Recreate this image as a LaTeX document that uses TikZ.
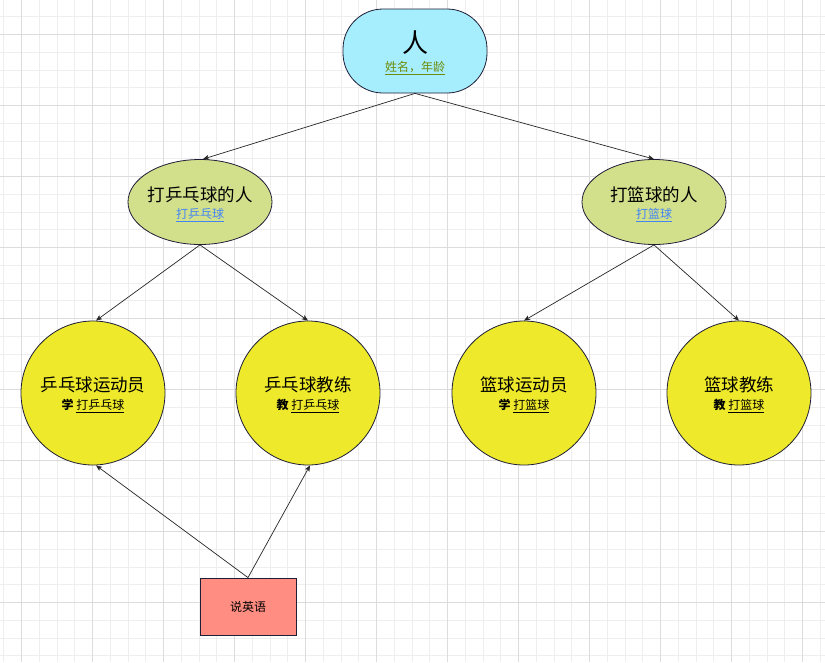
\documentclass[tikz,border=0pt]{standalone}
\usepackage{fontspec}
\setmainfont{Noto Sans CJK SC}
\usetikzlibrary{shapes.geometric,arrows.meta}
\definecolor{gridminor}{RGB}{238,238,238}
\definecolor{gridmajor}{RGB}{220,220,220}
\definecolor{edgeline}{RGB}{30,30,55}
\definecolor{topfill}{RGB}{166,238,254}
\definecolor{midfill}{RGB}{210,224,140}
\definecolor{circfill}{RGB}{238,233,42}
\definecolor{boxfill}{RGB}{255,141,130}
\definecolor{olivetext}{RGB}{110,140,10}
\definecolor{bluetext}{RGB}{66,133,244}
\tikzset{
  shapebase/.style={draw=edgeline, line width=0.8pt, inner sep=0pt},
  topnode/.style={shapebase, rectangle, rounded corners=40pt, fill=topfill, minimum width=144pt, minimum height=84pt},
  midnode/.style={shapebase, ellipse, fill=midfill, minimum width=144pt, minimum height=85pt},
  circnode/.style={shapebase, circle, fill=circfill, minimum size=144pt},
  boxnode/.style={shapebase, rectangle, fill=boxfill, minimum width=96pt, minimum height=57pt, font=\fontsize{12pt}{14pt}\selectfont},
  bigtitle/.style={font=\fontsize{26pt}{30pt}\selectfont, inner sep=0pt},
  title/.style={font=\fontsize{17.5pt}{20pt}\selectfont, inner sep=0pt},
  subtitle/.style={font=\fontsize{12pt}{14pt}\selectfont, inner sep=0pt},
  conn/.style={draw=black!85, line width=0.7pt, -{Stealth[length=6pt,width=5pt,inset=1.5pt]}}
}
\begin{document}
\begin{tikzpicture}[x=1pt,y=-1pt]
\useasboundingbox (0,0) rectangle (825,662);
\fill[white] (0,0) rectangle (825,662);
% grid
\foreach \i in {0,...,47} {
  \pgfmathsetmacro{\gx}{3.55+17.75*\i}
  \draw[gridminor, line width=0.6pt] (\gx,0) -- (\gx,662);
}
\foreach \i in {0,...,38} {
  \pgfmathsetmacro{\gy}{-1.2+17.75*\i}
  \draw[gridminor, line width=0.6pt] (0,\gy) -- (825,\gy);
}
\foreach \i in {0,...,11} {
  \pgfmathsetmacro{\gx}{21.3+71*\i}
  \draw[gridmajor, line width=0.7pt] (\gx,0) -- (\gx,662);
}
\foreach \i in {0,...,9} {
  \pgfmathsetmacro{\gy}{34.3+71*\i}
  \draw[gridmajor, line width=0.7pt] (0,\gy) -- (825,\gy);
}
% nodes
\node[topnode] (top) at (415,51) {};
\node[bigtitle] (toptitle) at (415,43) {人};
\node[subtitle, text=olivetext] (topsub) at (415,68) {\underline{姓名，年龄}};

\node[midnode] (pp) at (200,202) {};
\node[title] (pptitle) at (200,195) {打乒乓球的人};
\node[subtitle, text=bluetext] (ppsub) at (200,215) {\underline{打乒乓球}};

\node[midnode] (bb) at (654,202) {};
\node[title] (bbtitle) at (654,195) {打篮球的人};
\node[subtitle, text=bluetext] (bbsub) at (654,215) {\underline{打篮球}};

\node[circnode] (c1) at (93,393) {};
\node[title] (c1title) at (93,385) {乒乓球运动员};
\node[subtitle] (c1sub) at (93,406) {{\bfseries 学} \underline{打乒乓球}};

\node[circnode] (c2) at (308,393) {};
\node[title] (c2title) at (308,385) {乒乓球教练};
\node[subtitle] (c2sub) at (308,406) {{\bfseries 教} \underline{打乒乓球}};

\node[circnode] (c3) at (524,393) {};
\node[title] (c3title) at (524,385) {篮球运动员};
\node[subtitle] (c3sub) at (524,406) {{\bfseries 学} \underline{打篮球}};

\node[circnode] (c4) at (739,393) {};
\node[title] (c4title) at (739,385) {篮球教练};
\node[subtitle] (c4sub) at (739,406) {{\bfseries 教} \underline{打篮球}};

\node[boxnode] (en) at (248,606.5) {说英语};

% connectors
\draw[conn] (top.south) -- ([xshift=3pt]pp.north);
\draw[conn] (top.south) -- (bb.north);
\draw[conn] (pp.south) -- ([xshift=3pt]c1.north);
\draw[conn] (pp.south) -- (c2.north);
\draw[conn] (bb.south) -- (c3.north);
\draw[conn] (bb.south) -- (c4.north);
\draw[conn] (en.north) -- ([xshift=3pt]c1.south);
\draw[conn] (en.north) -- ([xshift=2pt]c2.south);
\end{tikzpicture}
\end{document}
